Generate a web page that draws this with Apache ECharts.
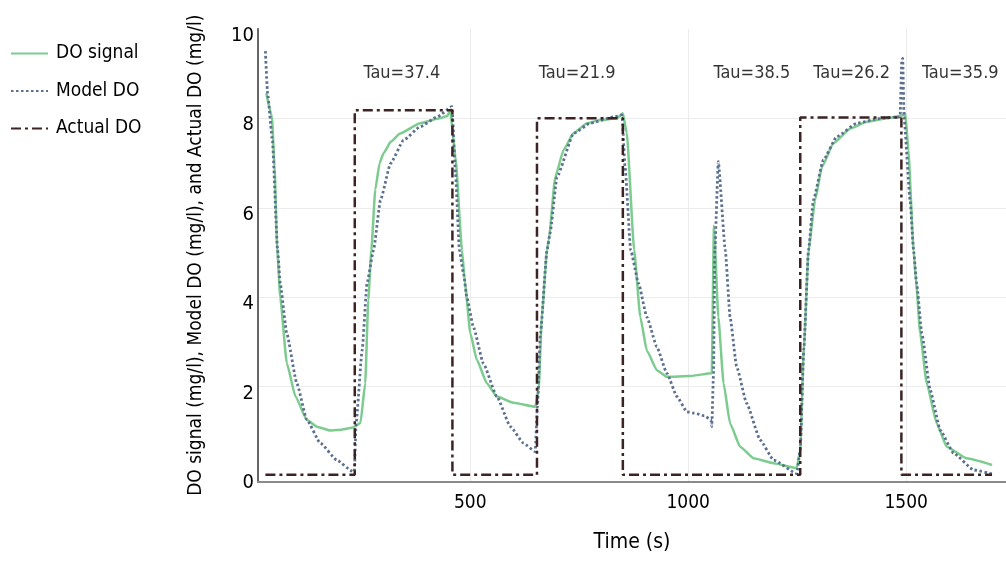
<!DOCTYPE html>
<html><head><meta charset="utf-8">
<script src="https://cdn.jsdelivr.net/npm/echarts@6/dist/echarts.min.js"></script>
<style>html,body{margin:0;padding:0;background:#fff}#c{width:1006px;height:565px}</style>
</head><body><div id="c"></div>
<script>
// Time (s) and values (mg/l)
const signalT = [32,45,51,57,64,79,99,125,150,179,205,231,248,259,266,273,282,292,301,318,339,385,430,447,454,466,481,488,500,515,538,561,599,649,657,664,676,680,695,714,737,768,798,836,850,859,876,890,905,928,951,1005,1054,1059,1069,1081,1096,1119,1150,1196,1249,1257,1265,1276,1291,1307,1333,1372,1410,1456,1494,1498,1505,1517,1523,1532,1547,1570,1593,1639,1697];
const signalY = [8.56,8.03,6.92,5.1,4.0,2.53,1.78,1.26,1.1,1.02,1.04,1.09,1.19,2.08,3.94,5.05,6.4,7.0,7.22,7.48,7.66,7.89,8.0,8.05,8.17,7.14,5.05,4.3,3.2,2.6,2.08,1.78,1.64,1.55,1.93,3.56,5.05,5.28,6.69,7.29,7.67,7.89,7.96,8.0,8.11,7.67,5.05,3.56,2.81,2.37,2.22,2.24,2.30,5.6,3.56,2.08,1.18,0.66,0.4,0.29,0.18,0.59,2.82,5.05,6.17,6.92,7.44,7.77,7.92,8.0,8.07,8.11,7.29,5.05,4.31,3.2,2.08,1.18,0.66,0.4,0.25];
const modelT = [30,35,46,58,64,79,102,125,156,194,228,234,238,252,263,278,294,317,347,385,424,458,466,475,485,492,507,530,561,592,622,649,654,661,676,683,699,737,775,829,848,855,868,886,905,928,951,974,997,1014,1037,1052,1054,1058,1061,1069,1085,1096,1111,1134,1165,1196,1249,1257,1265,1276,1287,1310,1341,1387,1440,1486,1490,1492,1495,1509,1517,1524,1536,1555,1578,1609,1655,1697];
const modelY = [9.5,8.56,7.5,5.05,4.31,3.19,2.08,1.26,0.74,0.36,0.12,0.1,1.18,2.82,4.31,5.05,6.17,6.99,7.51,7.81,8.03,8.26,6.78,5.05,4.5,4.0,3.34,2.52,1.78,1.11,0.74,0.55,1.55,3.19,5.05,5.43,6.69,7.66,7.89,8.03,8.07,6.92,5.05,4.31,3.56,2.89,2.3,1.78,1.44,1.41,1.35,1.26,1.11,2.3,5.05,7.03,5.05,3.56,2.45,1.63,0.81,0.36,0.06,0.59,2.82,5.05,6.17,7.07,7.59,7.89,8.0,8.03,9.3,9.34,8.03,6.17,5.05,4.31,3.19,1.93,1.03,0.51,0.14,0.05];
const actualT = [30,235,235,459,459,653,653,850,850,1257,1257,1489,1489,1697];
const actualY = [0.03,0.03,8.18,8.18,0.03,0.03,8.0,8.0,0.03,0.03,8.02,8.02,0.03,0.03];
const tauT = [343,745,1146,1375,1624];
const tauY = [9.0,9.0,9.0,9.0,9.0];
const tauLabels = ['Tau=37.4','Tau=21.9','Tau=38.5','Tau=26.2','Tau=35.9'];
const xTicks = [500,1000,1500];
const yTicks = [0,2,4,6,8,10];

const FONT = "'DejaVu Sans Condensed','DejaVu Sans',sans-serif";
const zip = (a,b) => a.map((v,i)=>[v,b[i]]);

const chart = echarts.init(document.getElementById('c'), null, {renderer:'canvas'});
chart.setOption({
  animation:false,
  textStyle:{fontFamily:FONT},
  grid:{left:258,right:0,top:28.8,bottom:83.3,containLabel:false},
  legend:{
    orient:'vertical', left:10, top:44, padding:0, itemWidth:37, itemHeight:20, itemGap:18.5,
    itemStyle:{opacity:0},
    data:['DO signal','Model DO','Actual DO'],
    textStyle:{fontFamily:FONT,fontSize:19,color:'#000',padding:[0,0,0,3]}
  },
  xAxis:{
    type:'value', min:13, max:1729,
    name:'Time (s)', nameLocation:'middle', nameGap:50,
    nameTextStyle:{fontFamily:FONT,fontSize:21,color:'#000'},
    axisLine:{show:true,onZero:false,lineStyle:{color:'#8a8a8a',width:2}},
    axisTick:{show:false,customValues:xTicks},
    axisLabel:{customValues:xTicks,formatter:v=>String(v),fontFamily:FONT,fontSize:19,color:'#000',margin:12},
    splitLine:{show:true,lineStyle:{color:'#ececec',width:1}}
  },
  yAxis:{
    type:'value', min:-0.123, max:10,
    name:'DO signal (mg/l), Model DO (mg/l), and Actual DO (mg/l)',
    nameLocation:'middle', nameGap:52,
    nameTextStyle:{fontFamily:FONT,fontSize:19,color:'#000'},
    axisLine:{show:true,onZero:false,lineStyle:{color:'#333',width:1.5}},
    axisTick:{show:false,customValues:yTicks},
    axisLabel:{customValues:yTicks,formatter:v=>String(v),fontFamily:FONT,fontSize:20,color:'#000',margin:4,verticalAlign:'top',padding:[-3,0,0,0]},
    splitLine:{show:true,showMaxLine:false,showMinLine:false,lineStyle:{color:'#ececec',width:1}}
  },
  series:[
    {name:'DO signal',type:'line',data:zip(signalT,signalY),symbol:'none',smooth:0.15,smoothMonotone:'x',
     lineStyle:{color:'#7ccb8f',width:2.5},itemStyle:{color:'#7ccb8f'}},
    {name:'Model DO',type:'line',data:zip(modelT,modelY),symbol:'none',smooth:0.15,smoothMonotone:'x',
     lineStyle:{color:'#5b6f8f',width:2.8,type:[2.5,2.5]},itemStyle:{color:'#5b6f8f'}},
    {name:'Actual DO',type:'line',data:zip(actualT,actualY),symbol:'none',
     lineStyle:{color:'#3d2323',width:2.5,type:[10,4,3,4]},itemStyle:{color:'#3d2323'}},
    {name:'tau',type:'scatter',data:tauT.map((t,i)=>[t,tauY[i],tauLabels[i]]),symbolSize:0,silent:true,
     label:{show:true,position:'inside',formatter:p=>p.data[2],fontFamily:FONT,fontSize:18,color:'#000'}}
  ]
});
</script></body></html>
